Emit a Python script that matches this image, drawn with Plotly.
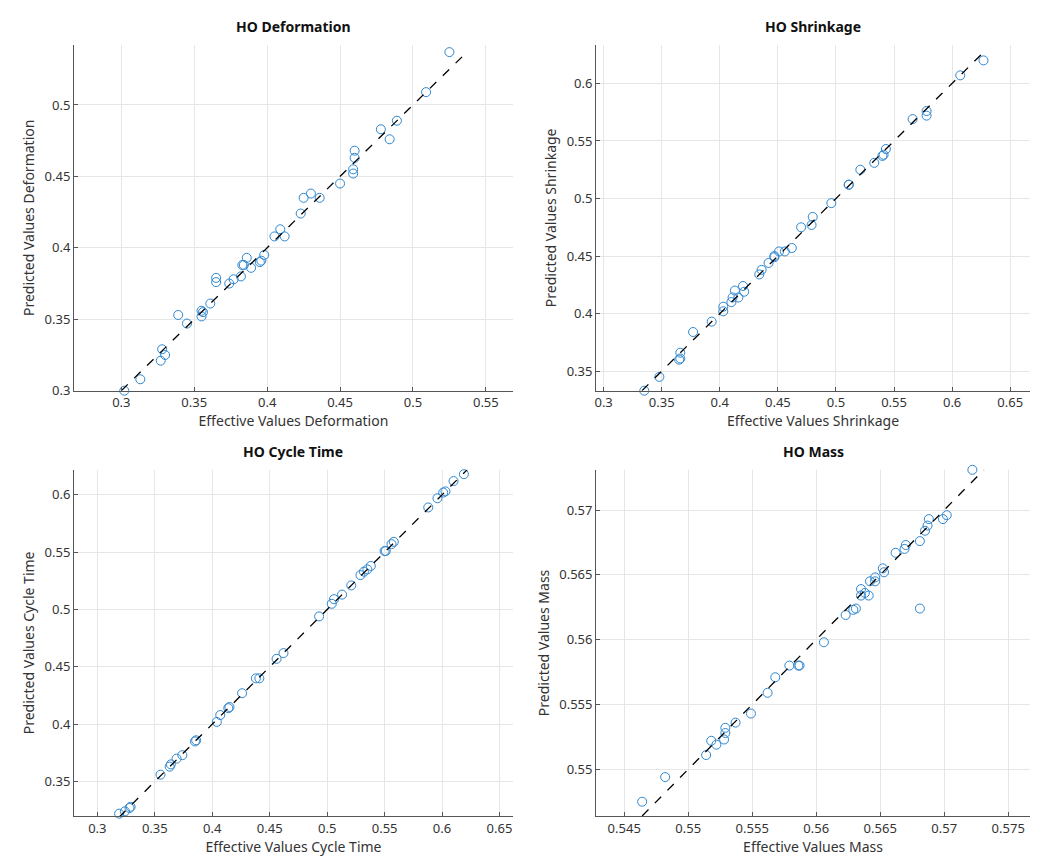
import plotly.graph_objects as go

# HO Deformation
def_eff = [0.302, 0.313, 0.327, 0.328, 0.330, 0.339, 0.345, 0.355, 0.355, 0.356, 0.361, 0.365, 0.365,
           0.374, 0.377, 0.382, 0.383, 0.384, 0.386, 0.389, 0.395, 0.396, 0.398, 0.405, 0.409, 0.412,
           0.423, 0.425, 0.430, 0.436, 0.450, 0.459, 0.459, 0.460, 0.460, 0.478, 0.484, 0.489, 0.509, 0.525]
def_pred = [0.300, 0.308, 0.321, 0.329, 0.325, 0.353, 0.347, 0.352, 0.356, 0.355, 0.361, 0.379, 0.376,
            0.375, 0.378, 0.380, 0.388, 0.388, 0.393, 0.386, 0.390, 0.391, 0.395, 0.408, 0.413, 0.408,
            0.424, 0.435, 0.438, 0.435, 0.445, 0.452, 0.455, 0.463, 0.468, 0.483, 0.476, 0.489, 0.509, 0.537]

# HO Shrinkage
shr_eff = [0.335, 0.348, 0.365, 0.366, 0.366, 0.377, 0.393, 0.403, 0.403, 0.410, 0.411, 0.413, 0.416,
           0.420, 0.421, 0.434, 0.436, 0.442, 0.447, 0.447, 0.451, 0.456, 0.462, 0.470, 0.479, 0.480,
           0.496, 0.511, 0.511, 0.521, 0.533, 0.540, 0.541, 0.543, 0.566, 0.578, 0.578, 0.607, 0.627]
shr_pred = [0.333, 0.345, 0.360, 0.361, 0.366, 0.384, 0.393, 0.402, 0.406, 0.410, 0.414, 0.420, 0.414,
            0.424, 0.419, 0.434, 0.438, 0.444, 0.449, 0.450, 0.454, 0.454, 0.457, 0.475, 0.477, 0.484,
            0.496, 0.512, 0.512, 0.525, 0.531, 0.537, 0.538, 0.543, 0.569, 0.572, 0.576, 0.607, 0.620]

# HO Cycle Time
cyc_eff = [0.319, 0.324, 0.328, 0.329, 0.355, 0.363, 0.364, 0.369, 0.374, 0.385, 0.386, 0.404, 0.407,
           0.414, 0.415, 0.426, 0.438, 0.441, 0.456, 0.462, 0.493, 0.504, 0.506, 0.513, 0.521, 0.529,
           0.532, 0.535, 0.538, 0.550, 0.551, 0.556, 0.558, 0.588, 0.596, 0.601, 0.603, 0.610, 0.619, 0.620]
cyc_pred = [0.322, 0.324, 0.327, 0.328, 0.356, 0.363, 0.365, 0.370, 0.373, 0.385, 0.386, 0.402, 0.408,
            0.414, 0.415, 0.427, 0.440, 0.440, 0.457, 0.462, 0.494, 0.505, 0.509, 0.513, 0.521, 0.530,
            0.533, 0.535, 0.538, 0.551, 0.551, 0.557, 0.559, 0.589, 0.597, 0.602, 0.603, 0.612, 0.618, 0.622]

# HO Mass
mass_eff = [0.5464, 0.5482, 0.5514, 0.5518, 0.5522, 0.5528, 0.5529, 0.5529, 0.5537, 0.5549, 0.5562,
            0.5568, 0.5579, 0.5586, 0.5587, 0.5606, 0.5623, 0.5629, 0.5631, 0.5635, 0.5635, 0.5638,
            0.5641, 0.5642, 0.5646, 0.5646, 0.5652, 0.5653, 0.5662, 0.5669, 0.5670, 0.5681, 0.5681,
            0.5685, 0.5687, 0.5688, 0.5699, 0.5702, 0.5722]
mass_pred = [0.5475, 0.5494, 0.5511, 0.5522, 0.5519, 0.5523, 0.5528, 0.5532, 0.5536, 0.5543, 0.5559,
             0.5571, 0.5580, 0.5580, 0.5580, 0.5598, 0.5619, 0.5623, 0.5624, 0.5639, 0.5634, 0.5636,
             0.5634, 0.5645, 0.5648, 0.5645, 0.5655, 0.5652, 0.5667, 0.5670, 0.5673, 0.5676, 0.5624,
             0.5684, 0.5688, 0.5693, 0.5693, 0.5696, 0.5731]

panels = [
    ("HO Deformation", "Deformation", def_eff, def_pred, [0.2675, 0.5686], [0.3, 0.542], 0.05,
     [0.0635, 0.486], [0.555, 0.957]),
    ("HO Shrinkage", "Shrinkage", shr_eff, shr_pred, [0.2935, 0.667], [0.333, 0.6334], 0.05,
     [0.566, 0.9836], [0.555, 0.957]),
    ("HO Cycle Time", "Cycle Time", cyc_eff, cyc_pred, [0.2797, 0.6617], [0.32, 0.6218], 0.05,
     [0.0635, 0.486], [0.0605, 0.463]),
    ("HO Mass", "Mass", mass_eff, mass_pred, [0.5428, 0.5767], [0.5464, 0.5731], 0.005,
     [0.566, 0.9836], [0.0605, 0.463]),
]

fig = go.Figure()
annotations = []
for i, (title, name, xe, yp, xr, yr, dt, xd, yd) in enumerate(panels, start=1):
    sfx = "" if i == 1 else str(i)
    lo = min(min(xe), min(yp))
    hi = max(max(xe), max(yp))
    fig.add_trace(go.Scatter(x=xe, y=yp, mode="markers", xaxis="x" + sfx, yaxis="y" + sfx,
                             marker=dict(symbol="circle-open", size=9, color="#2f86cf",
                                         line=dict(width=1)),
                             cliponaxis=False, showlegend=False))
    fig.add_trace(go.Scatter(x=[lo, hi], y=[lo, hi], mode="lines", xaxis="x" + sfx, yaxis="y" + sfx,
                             line=dict(color="black", dash="dash", width=1.3), showlegend=False))
    ax = dict(showgrid=True, gridcolor="#e6e6e6", showline=True, linecolor="#555555", linewidth=1,
              ticks="inside", ticklen=4, tickcolor="#555555", zeroline=False, dtick=dt,
              automargin=False, tickfont=dict(size=13, color="#333333"))
    fig.update_layout(**{
        "xaxis" + sfx: dict(ax, domain=xd, range=xr, anchor="y" + sfx,
                            title=dict(text="Effective Values " + name, standoff=2,
                                       font=dict(size=14, color="#333333"))),
        "yaxis" + sfx: dict(ax, domain=yd, range=yr, anchor="x" + sfx,
                            title=dict(text="Predicted Values " + name, standoff=6,
                                       font=dict(size=14, color="#333333"))),
    })
    annotations.append(dict(text="<b>" + title + "</b>", xref="paper", yref="paper",
                            x=(xd[0] + xd[1]) / 2, y=yd[1] + 0.008, xanchor="center",
                            yanchor="bottom", showarrow=False, font=dict(size=14, color="#111111")))

fig.update_layout(width=1039, height=860, margin=dict(l=0, r=0, t=0, b=0),
                  plot_bgcolor="white", paper_bgcolor="white",
                  font=dict(family="Noto Sans"), annotations=annotations)

fig.write_html("out.html")
